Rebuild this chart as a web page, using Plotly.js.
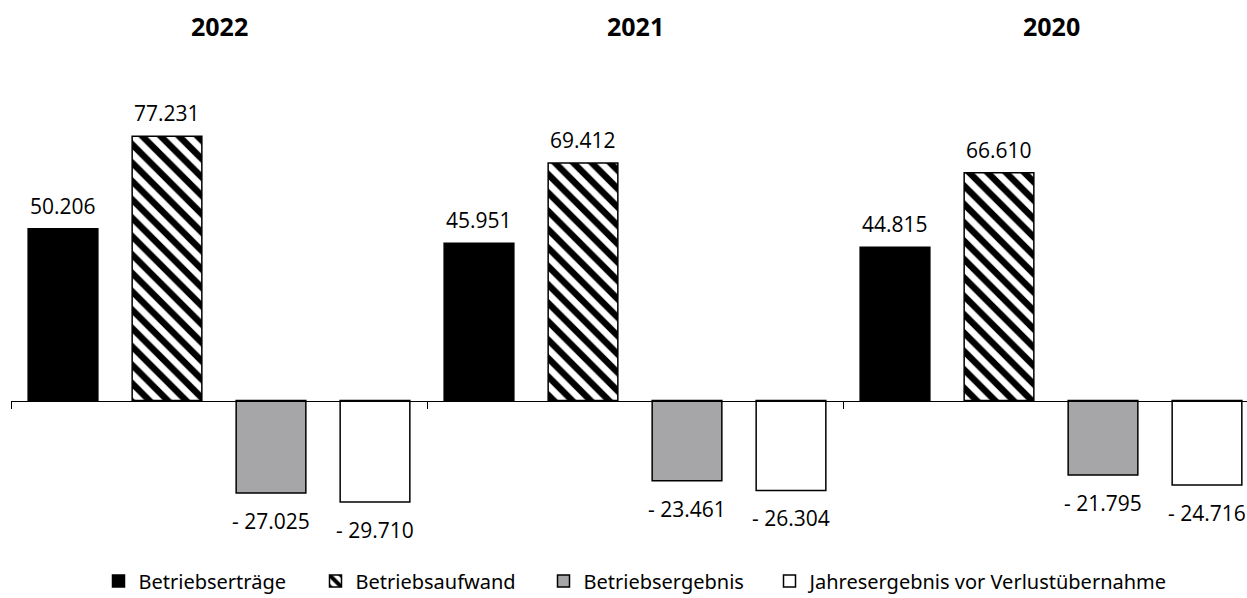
<!DOCTYPE html>
<html>
<head>
<meta charset="utf-8">
<script src="https://cdn.plot.ly/plotly-3.0.1.min.js"></script>
<style>
  html, body { margin: 0; padding: 0; background: #ffffff; }
  #chart { width: 1247px; height: 598px; }
</style>
</head>
<body>
<div id="chart"></div>
<script>
// ---- data ----
const years = ["2022", "2021", "2020"];
const seriesNames = ["Betriebserträge", "Betriebsaufwand", "Betriebsergebnis", "Jahresergebnis vor Verlustübernahme"];
const betriebsertraege = [50.206, 45.951, 44.815];
const betriebsaufwand = [77.231, 69.412, 66.610];
const betriebsergebnis = [-27.025, -23.461, -21.795];
const jahresergebnis = [-29.710, -26.304, -24.716];

const allSeries = [betriebsertraege, betriebsaufwand, betriebsergebnis, jahresergebnis];

function fmt(v) {
  const s = Math.abs(v).toFixed(3);
  return v < 0 ? "- " + s : s;
}

const styles = [
  { color: "#000000", line: { color: "#000000", width: 1.5 } },
  { color: "#ffffff", line: { color: "#000000", width: 1.5 },
    pattern: { shape: "\\", fgcolor: "#000000", bgcolor: "#ffffff", size: 13, solidity: 0.5 } },
  { color: "#a6a6a8", line: { color: "#000000", width: 1.5 } },
  { color: "#ffffff", line: { color: "#000000", width: 1.5 } }
];
const legendWidths = [172, 183, 181, 360];

const traces = allSeries.map((vals, j) => ({
  type: "bar",
  name: seriesNames[j],
  x: years,
  y: vals,
  marker: styles[j],
  legendwidth: legendWidths[j],
  hoverinfo: "skip"
}));

// ---- layout geometry ----
const W = 1247, H = 598;
const mL = 11, mR = 0, mT = 60, mB = 58;
const plotW = W - mL - mR;
const plotH = H - mT - mB;
const zeroPx = 400.5;         // pixel row of zero line
const pxPerUnit = 3.42;
const yMax = (zeroPx - mT) / pxPerUnit;
const yMin = -(mT + plotH - zeroPx) / pxPerUnit;
const catPx = 416;
const xMax = -0.5 + plotW / catPx;

const nS = allSeries.length;
const annotations = [];
allSeries.forEach((vals, j) => {
  vals.forEach((v, i) => {
    annotations.push({
      x: i + (j - (nS - 1) / 2) / nS,
      xref: "x", y: v, yref: "y",
      text: fmt(v),
      showarrow: false,
      xanchor: "center", yanchor: "middle",
      yshift: v >= 0 ? 23 : -28,
      font: { family: "Open Sans, sans-serif", size: 21, color: "#000000" }
    });
  });
});
years.forEach((yr, i) => {
  annotations.push({
    x: i, xref: "x", y: 1 + (mT - 26) / plotH, yref: "paper",
    text: "<b>" + yr + "</b>", showarrow: false,
    xanchor: "center", yanchor: "middle",
    font: { family: "Open Sans, sans-serif", size: 25, color: "#000000" }
  });
});

const layout = {
  width: W, height: H,
  margin: { l: mL, r: mR, t: mT, b: mB, pad: 0, autoexpand: false },
  paper_bgcolor: "#ffffff",
  plot_bgcolor: "#ffffff",
  barmode: "group",
  bargap: 0,
  bargroupgap: 0.33,
  showlegend: true,
  legend: {
    orientation: "h",
    x: (98.5 - mL) / plotW, xanchor: "left",
    y: -(581 - (mT + plotH)) / plotH, yanchor: "middle",
    font: { family: "Noto Sans, sans-serif", size: 20, color: "#000000" },
    itemwidth: 30,
    borderwidth: 0,
    traceorder: "normal"
  },
  xaxis: {
    type: "category",
    range: [-0.5, xMax],
    showticklabels: false,
    showline: true, linecolor: "#000000", linewidth: 1,
    ticks: "outside", tickson: "boundaries", ticklen: 7, tickcolor: "#000000", tickwidth: 1,
    showgrid: false, zeroline: false,
    anchor: "free",
    position: -yMin / (yMax - yMin),
    fixedrange: true
  },
  yaxis: {
    range: [yMin, yMax],
    visible: false,
    showgrid: false, zeroline: false,
    fixedrange: true
  },
  annotations: annotations
};

Plotly.newPlot("chart", traces, layout, { displayModeBar: false, staticPlot: true });
</script>
</body>
</html>
